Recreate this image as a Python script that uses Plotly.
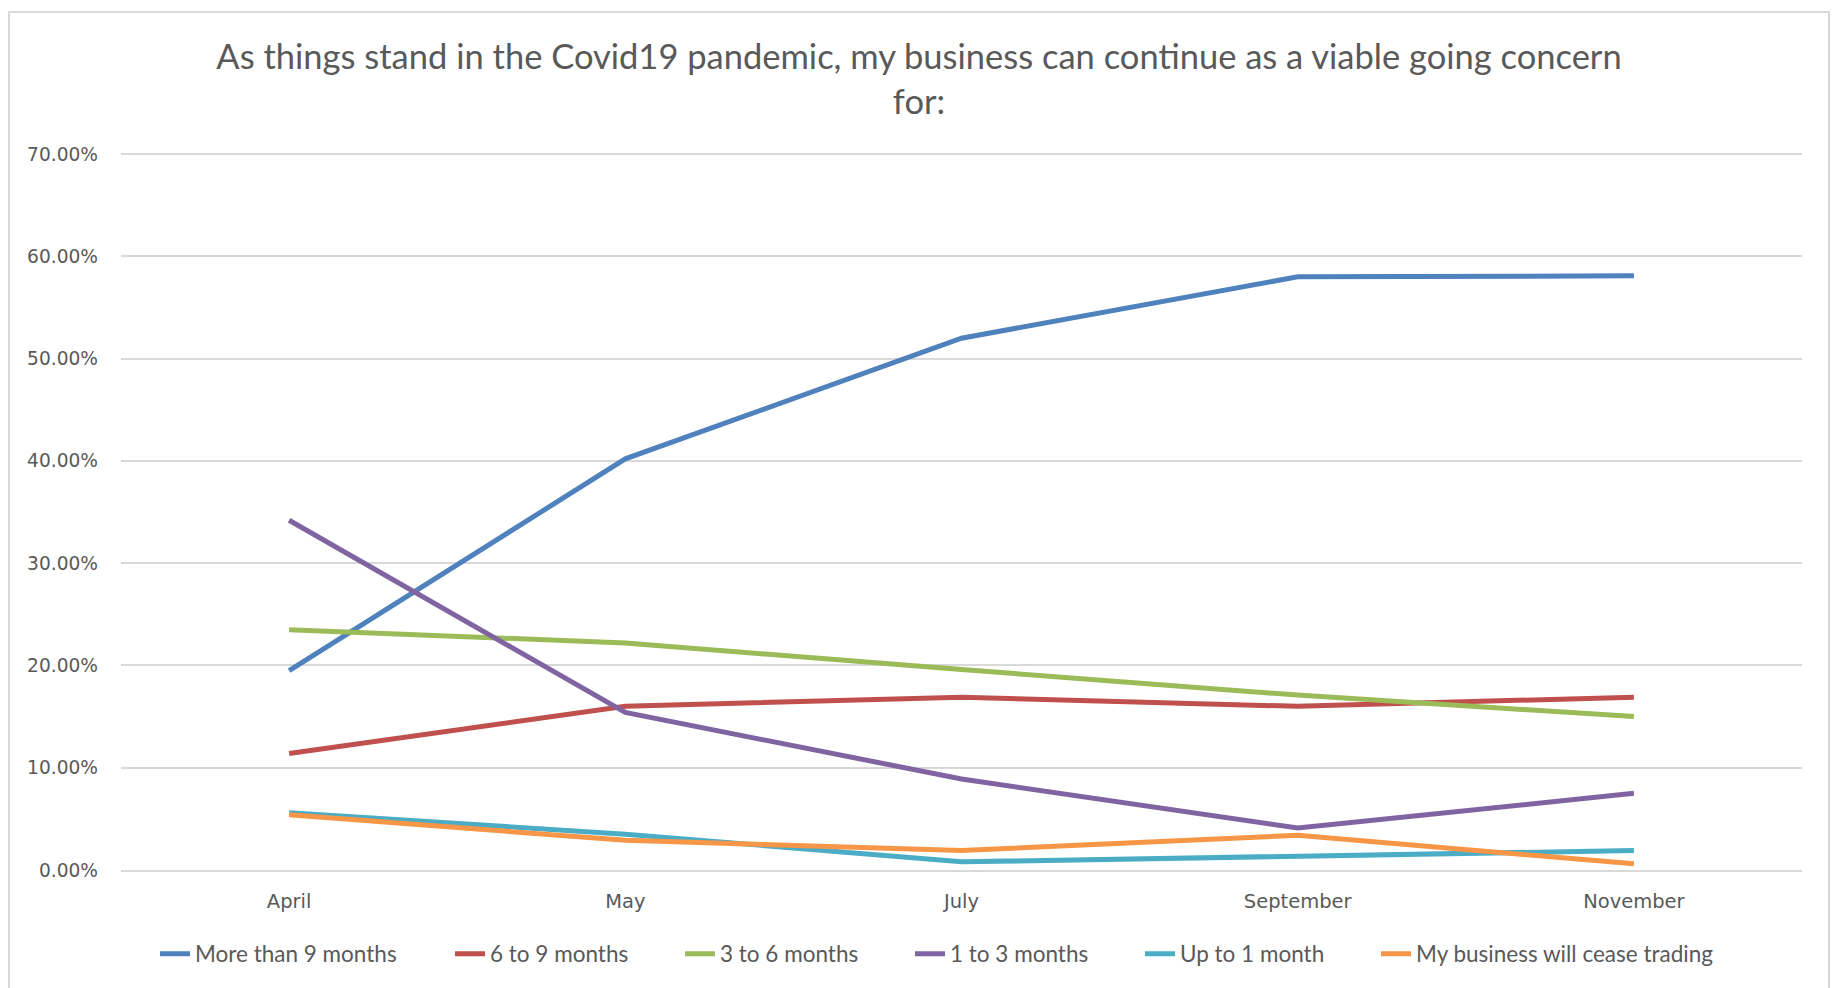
import plotly.graph_objects as go

# Survey rounds (x categories)
months = ["April", "May", "July", "September", "November"]

# Share of respondents per answer, as fractions
more_than_9 = [0.195, 0.402, 0.520, 0.580, 0.581]
six_to_9 = [0.114, 0.160, 0.169, 0.160, 0.169]
three_to_6 = [0.235, 0.222, 0.196, 0.171, 0.150]
one_to_3 = [0.342, 0.154, 0.089, 0.041, 0.075]
up_to_1 = [0.056, 0.035, 0.008, 0.014, 0.019]
cease_trading = [0.054, 0.029, 0.019, 0.034, 0.006]

series_names = [
    "More than 9 months",
    "6 to 9 months",
    "3 to 6 months",
    "1 to 3 months",
    "Up to 1 month",
    "My business will cease trading",
]
series_values = [more_than_9, six_to_9, three_to_6, one_to_3, up_to_1, cease_trading]
series_colors = ["#4F81BD", "#C0504D", "#9BBB59", "#8064A2", "#4BACC6", "#F79646"]

title_text = ("As things stand in the Covid19 pandemic, my business can continue as a viable going concern"
              "<br>for:")

# y range runs a hair past 70% so the top gridline is kept
Y_MAX = 0.704

W, H = 1843, 988
L, R, T, B = 121, 41, 150, 118
plot_w = W - L - R
plot_h = H - T - B


def px_x(px):
    return (px - L) / plot_w


def px_y(py):
    return (H - B - py) / plot_h


grid_col = "#D9D9D9"
text_col = "#595959"

# each legend entry gets its own legend box so the entries can be spaced freely
legend_text_left = [195, 490, 720, 950, 1180, 1416]
legend_ids = ["legend"] + [f"legend{i}" for i in range(2, len(series_names) + 1)]

fig = go.Figure()
for name, vals, col, lid in zip(series_names, series_values, series_colors, legend_ids):
    fig.add_trace(go.Scatter(
        x=months, y=vals, name=name, mode="lines",
        line=dict(color=col, width=5),
        legend=lid,
    ))

legend_layout = {}
for lid, tx in zip(legend_ids, legend_text_left):
    legend_layout[lid] = dict(
        orientation="h", x=px_x(tx - 40), xanchor="left",
        y=px_y(954), yanchor="middle",
        font=dict(family="Lato", size=22.5, color=text_col),
        bgcolor="rgba(0,0,0,0)",
    )

fig.update_layout(
    width=W, height=H,
    margin=dict(l=L, r=R, t=T, b=B, pad=0),
    paper_bgcolor="white", plot_bgcolor="white",
    title=dict(
        text=title_text,
        x=919 / W, xanchor="center",
        y=1 - 69 / H, yanchor="middle",
        font=dict(family="Lato", size=34.5, color=text_col),
    ),
    xaxis=dict(
        type="category", range=[-0.5, 4.5],
        showgrid=False, showline=True, linecolor=grid_col, linewidth=1.5,
        ticks="", ticklabelstandoff=13,
        tickfont=dict(family="DejaVu Sans", size=19.5, color=text_col),
    ),
    yaxis=dict(
        range=[0, Y_MAX], dtick=0.1, tick0=0, tickformat=".2%",
        showgrid=True, gridcolor=grid_col, gridwidth=1.5,
        zeroline=False, showline=False, ticks="", ticklabelstandoff=22,
        tickfont=dict(family="DejaVu Sans", size=18.6, color=text_col),
    ),
    showlegend=True,
    shapes=[dict(
        type="rect", xref="paper", yref="paper",
        x0=px_x(9), x1=px_x(1829), y0=px_y(1000), y1=px_y(12),
        line=dict(color=grid_col, width=2), fillcolor="rgba(0,0,0,0)", layer="below",
    )],
    **legend_layout,
)

fig.write_html("out.html")
